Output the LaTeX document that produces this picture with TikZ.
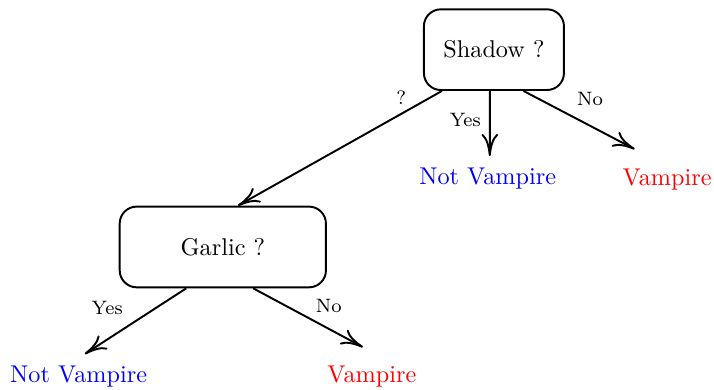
\documentclass[tikz,border=0pt]{standalone}
\usepackage{tikz}
\usetikzlibrary{positioning,arrows.meta}

\begin{document}
\begin{tikzpicture}[
    test/.style={rectangle, draw, thick, rounded corners=7pt, minimum height=1.17cm, align=center},
    leaf/.style={align=center},
    lbl/.style={font=\footnotesize},
    arrow/.style={-{To[length=3.2mm, width=2.4mm]}, thick}
]
\useasboundingbox (0,0) rectangle (10.35,5.65);

% -------- Tests --------
\node[test, minimum width=2.03cm] (shadow) at (7.16,4.93) {Shadow ?};
\node[test, minimum width=2.99cm] (garlic) at (3.23,2.07) {Garlic ?};

% -------- Leaves --------
\node[leaf, text=blue] (notvamp1) at (7.07,3.06) {Not Vampire};
\node[leaf, text=red] (vamp1) at (9.67,3.04) {Vampire};
\node[leaf, text=blue] (notvamp2) at (1.14,0.19) {Not Vampire};
\node[leaf, text=red] (vamp2) at (5.39,0.19) {Vampire};

% -------- Arrows --------
\draw[arrow] ([xshift=2.75mm]shadow.south west) -- ([xshift=2.2mm]garlic.north)
    node[lbl, pos=0.2, above] {?};
\draw[arrow] ([xshift=-0.6mm]shadow.south) -- ([xshift=0.3mm, yshift=0.5mm]notvamp1.north)
    node[lbl, pos=0.45, left] {Yes};
\draw[arrow] ([xshift=4.3mm]shadow.south) -- ([xshift=-4.7mm, yshift=1.7mm]vamp1.north)
    node[lbl, pos=0.4, above right] {No};
\draw[arrow] ([xshift=-5.3mm]garlic.south) -- ([xshift=0.9mm, yshift=0.5mm]notvamp2.north)
    node[lbl, pos=0.3, left=3.5mm] {Yes};
\draw[arrow] ([xshift=4.4mm]garlic.south) -- ([xshift=-1.3mm, yshift=1.5mm]vamp2.north)
    node[lbl, pos=0.3, right=3mm] {No};

\end{tikzpicture}
\end{document}
